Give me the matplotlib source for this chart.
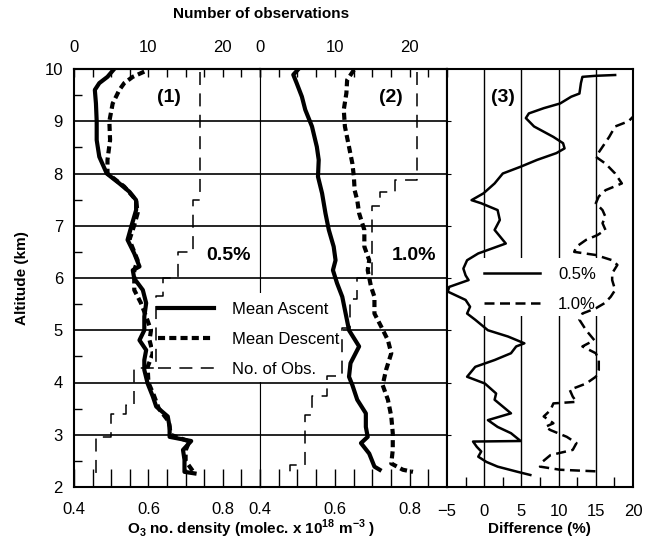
#!/usr/bin/env python3
"""
Mean ascent vs mean descent O2 number density profiles for two
filter settings (0.5% and 1.0%), number of observations per level,
and the ascent/descent difference in percent.
"""

import matplotlib
matplotlib.use("Agg")
import matplotlib.pyplot as plt
from matplotlib.patches import Rectangle
from matplotlib.ticker import MultipleLocator, FixedLocator, NullFormatter

plt.rcParams["font.family"] = ["Liberation Sans", "DejaVu Sans"]
plt.rcParams["mathtext.fontset"] = "custom"
plt.rcParams["mathtext.rm"] = "Liberation Sans"
plt.rcParams["mathtext.bf"] = "Liberation Sans:bold"

# ---- panel (1): 0.5% ----
ALT1_ASC = [10.0, 9.85, 9.73, 9.60, 9.34, 9.0, 8.64, 8.32, 8.0, 7.81, 7.65, 7.49, 7.30,
            7.01, 6.73, 6.47, 6.22, 6.15, 5.99, 5.77, 5.52, 5.26, 5.0, 4.81, 4.62, 4.43,
            4.24, 3.98, 3.73, 3.54, 3.35, 3.15, 2.96, 2.88, 2.71, 2.52, 2.29, 2.26]
DEN1_ASC = [0.508, 0.49, 0.468, 0.456, 0.459, 0.461, 0.461, 0.468, 0.488, 0.522, 0.549,
            0.567, 0.567, 0.555, 0.544, 0.562, 0.576, 0.558, 0.562, 0.585, 0.594, 0.589,
            0.589, 0.576, 0.594, 0.589, 0.589, 0.598, 0.612, 0.621, 0.652, 0.657, 0.657,
            0.715, 0.693, 0.697, 0.697, 0.724]

ALT1_DES = [9.95, 9.85, 9.73, 9.60, 9.34, 9.0, 8.64, 8.26, 8.0, 7.75, 7.49, 7.24, 7.01,
            6.73, 6.34, 6.15, 5.77, 5.52, 5.26, 5.0, 4.81, 4.56, 4.30, 4.0, 3.75, 3.5,
            3.25, 3.0, 2.87, 2.7, 2.5, 2.3]
DEN1_DES = [0.589, 0.558, 0.535, 0.522, 0.504, 0.495, 0.497, 0.49, 0.49, 0.535, 0.567,
            0.571, 0.562, 0.549, 0.571, 0.562, 0.562, 0.58, 0.594, 0.607, 0.603, 0.612,
            0.598, 0.60, 0.615, 0.628, 0.655, 0.66, 0.71, 0.70, 0.70, 0.72]

OBS1_EDGES = [9.95, 7.5, 6.5, 6.0, 5.65, 4.27, 3.57, 3.4, 2.95, 2.25]
OBS1_VALS = [17, 16, 14, 12, 11, 8, 7, 5, 3]

# ---- panel (2): 1.0% ----
ALT2_ASC = [10.0, 9.89, 9.73, 9.47, 9.22, 8.90, 8.51, 8.26, 7.94, 7.62, 7.24, 6.92, 6.60,
            6.34, 6.15, 5.90, 5.64, 5.32, 5.0, 4.69, 4.37, 4.11, 3.95, 3.67, 3.41, 3.15,
            2.96, 2.84, 2.64, 2.39, 2.33]
DEN2_ASC = [0.503, 0.489, 0.498, 0.512, 0.521, 0.539, 0.552, 0.557, 0.555, 0.566, 0.575,
            0.584, 0.597, 0.602, 0.595, 0.606, 0.620, 0.629, 0.638, 0.665, 0.642, 0.638,
            0.647, 0.660, 0.683, 0.683, 0.688, 0.670, 0.692, 0.706, 0.72]

ALT2_DES = [9.98, 9.79, 9.54, 9.22, 8.90, 8.51, 8.19, 7.94, 7.68, 7.49, 7.24, 6.92, 6.60,
            6.34, 6.15, 5.83, 5.64, 5.32, 5.07, 4.81, 4.56, 4.24, 3.95, 3.67, 3.35, 3.03,
            2.71, 2.45, 2.33, 2.29]
DEN2_DES = [0.651, 0.633, 0.631, 0.624, 0.627, 0.638, 0.647, 0.651, 0.653, 0.660, 0.665,
            0.679, 0.679, 0.692, 0.688, 0.697, 0.706, 0.706, 0.724, 0.742, 0.751, 0.737,
            0.728, 0.742, 0.751, 0.755, 0.755, 0.751, 0.782, 0.809]

OBS2_EDGES = [9.95, 7.87, 7.65, 7.37, 6.0, 5.6, 5.05, 4.12, 3.75, 3.38, 2.42, 2.2]
OBS2_VALS = [21, 18, 16, 15, 13, 12, 11, 9, 7, 6, 4]

# ---- panel (3): difference (%) ----
ALT3_05 = [9.885, 9.87, 9.85, 9.73, 9.53, 9.47, 9.34, 9.25, 9.15, 9.06, 8.90, 8.70, 8.58,
           8.48, 8.39, 8.26, 8.13, 8.00, 7.81, 7.62, 7.49, 7.43, 7.30, 7.11, 6.92, 6.66,
           6.47, 6.34, 6.18, 6.05, 5.96, 5.83, 5.74, 5.58, 5.45, 5.32, 5.20, 5.0, 4.88,
           4.75, 4.69, 4.56, 4.43, 4.30, 4.11, 3.98, 3.79, 3.67, 3.54, 3.41, 3.28, 3.15,
           3.03, 2.88, 2.87, 2.77, 2.68, 2.58, 2.48, 2.39, 2.29, 2.23]
DIF3_05 = [17.6, 15.0, 13.2, 13.0, 12.8, 11.7, 10.2, 8.0, 6.0, 5.6, 6.7, 9.3, 10.6,
           10.8, 9.7, 7.1, 4.9, 2.5, 1.4, -0.1, -1.7, -0.4, 1.8, 2.1, 1.4, 2.9,
           -0.8, -2.3, -2.8, -2.5, -2.1, -4.7, -4.9, -2.5, -1.9, -2.3, -1.2, 0.5, 3.2,
           5.4, 4.3, 3.6, 1.4, -1.2, -2.3, 0.1, 1.6, 1.4, 2.5, 3.6, 0.5, 1.8,
           3.6, 4.9, -1.5, -1.0, -0.4, -0.8, 0.3, 1.8, 4.5, 6.2]

ALT3_10 = [9.95, 9.3, 9.0, 8.90, 8.70, 8.51, 8.32, 8.19, 8.0, 7.81, 7.68, 7.56, 7.43,
           7.30, 7.17, 7.05, 6.92, 6.82, 6.73, 6.60, 6.50, 6.44, 6.34, 6.25, 6.09,
           5.96, 5.77, 5.64, 5.52, 5.42, 5.32, 5.20, 5.0, 4.81, 4.69, 4.56, 4.43, 4.24,
           4.11, 3.98, 3.86, 3.73, 3.63, 3.60, 3.47, 3.35, 3.22, 3.15, 3.09, 2.96, 2.84,
           2.71, 2.61, 2.48, 2.39, 2.33, 2.30]
DIF3_10 = [23.0, 21.5, 19.4, 17.6, 16.8, 15.9, 15.0, 16.3, 17.6, 18.5, 16.3, 15.4, 15.0,
           15.9, 16.3, 15.9, 16.3, 15.2, 13.7, 12.4, 12.1, 15.0, 17.2, 17.9, 17.2,
           17.2, 17.6, 17.0, 16.2, 15.0, 13.2, 12.8, 13.7, 14.8, 13.2, 15.0, 15.4, 15.4,
           15.0, 13.7, 11.5, 11.9, 12.4, 9.3, 8.9, 8.0, 9.3, 8.2, 8.9, 11.1, 12.4,
           11.9, 8.9, 7.8, 7.5, 10.2, 15.0]

LEGEND_1 = ["Mean Ascent", "Mean Descent", "No. of Obs."]
LEGEND_3 = ["0.5%", "1.0%"]

W, H = 658, 541
TICK_FS = 12
LABEL_FS = 11


def step_profile(edges, vals):
    xs, ys = [], []
    for i, v in enumerate(vals):
        xs += [v, v]
        ys += [edges[i], edges[i + 1]]
    return xs, ys


def fx(px):
    return px / W


def fy(py):
    return 1 - py / H


def blank_box(ax, x0, y0, x1, y1):
    # white patch behind a legend: hides gridlines/spines, curves stay on top
    ax.add_patch(Rectangle((fx(x0), fy(y1)), (x1 - x0) / W, (y1 - y0) / H,
                           transform=fig.transFigure, facecolor="white",
                           edgecolor="none", clip_on=False, zorder=2.6))


fig = plt.figure(figsize=(W / 100, H / 100), dpi=100)
bottom, height = fy(487), (487 - 69) / H
ax1 = fig.add_axes([fx(74), bottom, (260 - 74) / W, height])
ax2 = fig.add_axes([fx(260), bottom, (447 - 260) / W, height])
ax3 = fig.add_axes([fx(447), bottom, (633 - 447) / W, height])

asc_kw = dict(color="black", lw=3.0, solid_joinstyle="round", zorder=3)
des_kw = dict(color="black", lw=3.0, linestyle=(0, (1.7, 1.0)), zorder=3)
obs_kw = dict(color="black", lw=1.1, linestyle=(0, (8.5, 5.5)), zorder=3)

handles = None
for ax, alt_a, den_a, alt_d, den_d, edges, vals in [
    (ax1, ALT1_ASC, DEN1_ASC, ALT1_DES, DEN1_DES, OBS1_EDGES, OBS1_VALS),
    (ax2, ALT2_ASC, DEN2_ASC, ALT2_DES, DEN2_DES, OBS2_EDGES, OBS2_VALS),
]:
    ax.set_xlim(0.4, 0.9)
    ax.set_ylim(2, 10)
    for km in range(3, 10):
        ax.axhline(km, color="black", lw=1.2, zorder=1)
    la, = ax.plot(den_a, alt_a, **asc_kw)
    ld, = ax.plot(den_d, alt_d, **des_kw)

    axt = ax.twiny()
    axt.set_xlim(0, 25)
    xs, ys = step_profile(edges, vals)
    lo, = axt.plot(xs, ys, **obs_kw)
    if handles is None:
        handles = [la, ld, lo]

    ax.xaxis.set_major_locator(FixedLocator([0.4, 0.6, 0.8]))
    ax.xaxis.set_minor_locator(MultipleLocator(0.05))
    ax.xaxis.set_minor_formatter(NullFormatter())
    ax.tick_params(axis="x", which="both", direction="in", length=13, width=1,
                   labelsize=TICK_FS, pad=11)

    axt.xaxis.set_major_locator(FixedLocator([0, 10, 20]))
    axt.xaxis.set_minor_locator(MultipleLocator(2.5))
    axt.tick_params(axis="x", which="both", direction="in", length=6, width=1,
                    labelsize=TICK_FS, pad=10)
    for s in ["left", "right", "bottom"]:
        axt.spines[s].set_visible(False)
    axt.spines["top"].set_linewidth(1.5)

    for s in ["top", "bottom"]:
        ax.spines[s].set_linewidth(1.5)

ax1.set_yticks(range(2, 11))
ax1.yaxis.set_minor_locator(MultipleLocator(0.5))
ax1.tick_params(axis="y", which="major", length=0, labelsize=TICK_FS, pad=8)
ax1.tick_params(axis="y", which="minor", direction="in", length=6, width=1)
ax1.spines["left"].set_linewidth(1.5)
ax1.spines["right"].set_linewidth(0.8)
ax2.spines["left"].set_linewidth(0.8)
ax2.spines["right"].set_linewidth(1.5)
ax2.tick_params(axis="y", which="both", left=False, labelleft=False)

# panel (3)
ax3.set_xlim(-5, 20)
ax3.set_ylim(2, 10)
for v in [0, 5, 10, 15]:
    ax3.axvline(v, color="black", lw=1.0, zorder=1)
l05, = ax3.plot(DIF3_05, ALT3_05, color="black", lw=1.8, zorder=3)
l10, = ax3.plot(DIF3_10, ALT3_10, color="black", lw=1.8, linestyle=(0, (4.0, 2.2)), zorder=3)
ax3.set_xticks([-5, 0, 5, 10, 15, 20])
ax3.xaxis.set_minor_locator(FixedLocator([-2.5, 2.5, 7.5, 12.5, 17.5]))
ax3.tick_params(axis="x", which="major", length=0, labelsize=TICK_FS, pad=12)
ax3.tick_params(axis="x", which="minor", direction="in", length=7, width=1)
ax3.set_yticks(range(3, 10))
ax3.tick_params(axis="y", which="both", direction="in", length=3, labelleft=False)
for s in ax3.spines.values():
    s.set_linewidth(1.5)

# panel labels
ax1.text(0.51, 0.933, "(1)", transform=ax1.transAxes, ha="center", va="center",
         fontsize=14, fontweight="bold")
ax2.text(0.70, 0.933, "(2)", transform=ax2.transAxes, ha="center", va="center",
         fontsize=14, fontweight="bold")
ax3.text(0.30, 0.933, "(3)", transform=ax3.transAxes, ha="center", va="center",
         fontsize=14, fontweight="bold")
ax1.text(0.833, 0.555, "0.5%", transform=ax1.transAxes, ha="center", va="center",
         fontsize=14, fontweight="bold")
ax2.text(0.824, 0.555, "1.0%", transform=ax2.transAxes, ha="center", va="center",
         fontsize=14, fontweight="bold")

# legends: white boxes behind, frameless legends on top
blank_box(ax2, 153, 293, 343, 382)
blank_box(ax3, 479, 258, 600, 316)
leg_kw = dict(loc="upper left", frameon=False, fontsize=12, handlelength=3.35,
              handletextpad=1.1, labelspacing=0.9, borderpad=0.3, borderaxespad=0)
fig.legend(handles, LEGEND_1, bbox_to_anchor=(fx(153), fy(297)), **leg_kw)
fig.legend([l05, l10], LEGEND_3, bbox_to_anchor=(fx(479), fy(262)), **leg_kw)

# axis titles
fig.text(fx(261), fy(14), "Number of observations", ha="center", va="center",
         fontsize=LABEL_FS, fontweight="bold")
fig.text(fx(251), fy(529),
         r"O$_\mathbf{3}$ no. density (molec. x 10$^\mathbf{18}$ m$^\mathbf{-3}$ )",
         ha="center", va="center", fontsize=LABEL_FS, fontweight="bold")
fig.text(fx(539), fy(529), "Difference (%)", ha="center", va="center",
         fontsize=LABEL_FS, fontweight="bold")
fig.text(fx(22), fy(278), "Altitude (km)", ha="center", va="center", rotation=90,
         fontsize=LABEL_FS, fontweight="bold")

fig.savefig("out.png", dpi=100)
plt.close(fig)
